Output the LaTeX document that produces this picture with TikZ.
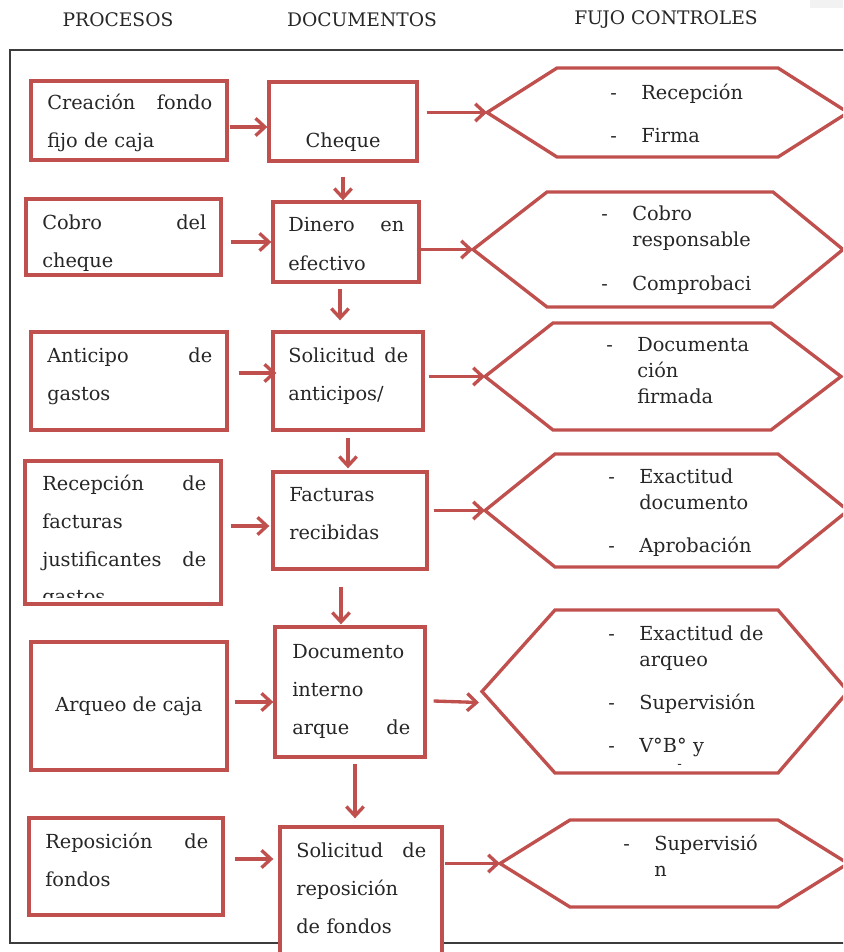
\documentclass[tikz,border=0pt]{standalone}
\usepackage{fontspec}
\setmainfont{DejaVu Serif}
\usetikzlibrary{arrows.meta,calc,fit}
\definecolor{boxred}{HTML}{C0504D}
\definecolor{ink}{HTML}{262626}
\definecolor{framegray}{HTML}{3C3C3C}

% dash-led entry and its continuation indent inside the control hexagons
\newcommand\ctlitem[1]{\makebox[23.25pt][l]{-}#1}
\newcommand\ctlcont[1]{\hspace*{23.25pt}#1}

% hexagon: name, apex x, top y, bottom y, top-left x, top-right x
\newcommand\ctlhex[6]{%
  \coordinate (#1) at (#2,{(#3+#4)/2});
  \draw[hexa] (#1) -- (#5,#3) -- (#6,#3) -- ({#6+70},{(#3+#4)/2})
    -- (#6,#4) -- (#5,#4) -- cycle;}

\begin{document}
\begin{tikzpicture}[x=0.75pt,y=-0.75pt,
  box/.style={draw=boxred, line width=2.5pt, fill=white, inner sep=0pt, rectangle},
  hexa/.style={draw=boxred, line width=2.5pt, line join=miter},
  arr/.style={draw=boxred, line width=2.5pt, -{Straight Barb[length=7pt,width=13pt]}},
  body/.style={font=\fontsize{14.5}{28.5}\selectfont, text=ink, inner sep=0pt, anchor=base west, align=left},
  ctl/.style={font=\fontsize{14.5}{19.5}\selectfont, text=ink, inner sep=0pt, anchor=base west, align=left, text width=200*0.75pt},
  head/.style={font=\fontsize{14}{16}\selectfont, text=ink, inner sep=0pt}
]
\clip (0,0) rectangle (843,952);
\fill[gray!10] (810,0) rectangle (843,8);

% column headings
\node[head] (hp) at (118,20) {PROCESOS};
\node[head] (hd) at (362,20) {DOCUMENTOS};
\node[head] (hc) at (666,20) {FUJO CONTROLES};

% outer frame
\draw[framegray, line width=1.5pt] (10,50) rectangle (880,943);

% process boxes
\node[box, fit={(31,81) (227,160)}] (p1) {};
\node[box, fit={(26,199) (221,275)}] (p2) {};
\node[box, fit={(31,332) (227,430)}] (p3) {};
\node[box, fit={(25,461) (221,604)}] (p4) {};
\node[box, fit={(31,642) (227,770)}] (p5) {};
\node[box, fit={(29,818) (223,915)}] (p6) {};

% document boxes
\node[box, fit={(269,82) (417,161)}] (d1) {};
\node[box, fit={(273,202) (419,282)}] (d2) {};
\node[box, fit={(273,332) (423,430)}] (d3) {};
\node[box, fit={(273,472) (427,569)}] (d4) {};
\node[box, fit={(275,627) (425,757)}] (d5) {};
\node[box, fit={(280,827) (442,980)}] (d6) {};

% control hexagons
\ctlhex{h1}{487}{68}{157}{557}{778}
\ctlhex{h2}{473}{192}{307}{547}{773}
\ctlhex{h3}{485}{323}{430}{553}{771}
\ctlhex{h4}{485}{454}{567}{555}{778}
\ctlhex{h5}{482}{610}{773}{555}{778}
\ctlhex{h6}{500}{820}{907}{570}{778}

% process texts
\node[body, text width=165*0.75pt] (p1t) at (47,110) {Creación\hfill fondo\\fijo de caja};
\node[body, text width=164*0.75pt] (p2t) at (42,229) {Cobro\hfill del\\cheque};
\node[body, text width=165*0.75pt] (p3t) at (47,362) {Anticipo\hfill de\\gastos};
\node[body, text width=164*0.75pt] (p4t) at (42,490) {Recepción\hfill de\\facturas\\justificantes\hfill de};
\begin{scope}
  \clip (30,580) rectangle (220,597);
  \node[body] (p4g) at (42,603) {gastos};
\end{scope}
\node[body, anchor=base] (p5t) at (129,711) {Arqueo de caja};
\node[body, text width=163*0.75pt] (p6t) at (45,848) {Reposición\hfill de\\fondos};

% document texts
\node[body, anchor=base] (d1t) at (343,148) {Cheque};
\node[body, text width=116*0.75pt] (d2t) at (288,232) {Dinero\hfill en\\efectivo};
\node[body, text width=120*0.75pt] (d3t) at (288,362) {Solicitud\hfill de\\anticipos/};
\node[body, text width=120*0.75pt] (d4t) at (289,501) {Facturas\\recibidas};
\node[body, text width=118*0.75pt] (d5t) at (292,658) {Documento\\interno\\arque\hfill de};
\node[body, text width=130*0.75pt] (d6t) at (296,857) {Solicitud\hfill de\\reposición\\de fondos};

% control texts
\node[ctl] (h1t) at (610,100) {\ctlitem{Recepción}\\[12.75pt]\ctlitem{Firma}};
\node[ctl] (h2t) at (601,221) {\ctlitem{Cobro}\\\ctlcont{responsable}\\[12.75pt]\ctlitem{Comprobaci}};
\node[ctl] (h3t) at (606,351) {\ctlitem{Documenta}\\\ctlcont{ción}\\\ctlcont{firmada}};
\node[ctl] (h4t) at (608,483) {\ctlitem{Exactitud}\\\ctlcont{documento}\\[12.75pt]\ctlitem{Aprobación}};
\node[ctl] (h5t) at (608,640) {\ctlitem{Exactitud de}\\\ctlcont{arqueo}\\[12.75pt]\ctlitem{Supervisión}\\[12.75pt]\ctlitem{V°B° y}};
\node[ctl, font=\fontsize{10}{12}\selectfont, text width=10pt] (h5d) at (677,768) {-};
\node[ctl] (h6t) at (623,850) {\ctlitem{Supervisió}\\\ctlcont{n}};

% process -> document
\draw[arr] ($(p1.east)+(1,6.5)$) -- ($(d1.west)+(0,5.5)$);
\draw[arr] ($(d2.west -| p2.east)+(8,0)$) -- (d2.west);
\draw[arr] ($(d3.west -| p3.east)+(10,-8)$) -- ($(d3.west)+(5,-8)$);
\draw[arr] ($(d4.west -| p4.east)+(8,5.5)$) -- ($(d4.west)+(-2,5.5)$);
\draw[arr] ($(d5.west -| p5.east)+(6,10)$) -- ($(d5.west)+(0,10)$);
\draw[arr] ($(p6.east)+(10,-7.5)$) -- ($(p6.east -| d6.west)+(-5,-7.5)$);

% document -> document
\draw[arr] ($(d1.south)+(0,14)$) -- (d1.south |- d2.north);
\draw[arr] ($(d2.south)+(-6,5)$) -- ($(d3.north)+(-8,-10)$);
\draw[arr] ($(d3.south)+(0,6)$) -- ($(d4.north)+(-2,-2)$);
\draw[arr] ($(d4.south)+(-9,16)$) -- ($(d5.north)+(-9,-1)$);
\draw[arr] ($(d5.south)+(5,5)$) -- ($(d6.north)+(-6,-7)$);

% document -> controls
\draw[arr] ($(h1 -| d1.east)+(8,0)$) -- (h1);
\draw[arr] ($(h2 -| d2.east)+(-4,0)$) -- (h2);
\draw[arr] ($(h3 -| d3.east)+(4,0)$) -- (h3);
\draw[arr] ($(h4 -| d4.east)+(5,0)$) -- (h4);
\draw[arr] ($(d5.east)+(7,9)$) -- ($(h5)+(-3,11)$);
\draw[arr] ($(h6 -| d6.east)+(1,0)$) -- (h6);
\end{tikzpicture}
\end{document}
